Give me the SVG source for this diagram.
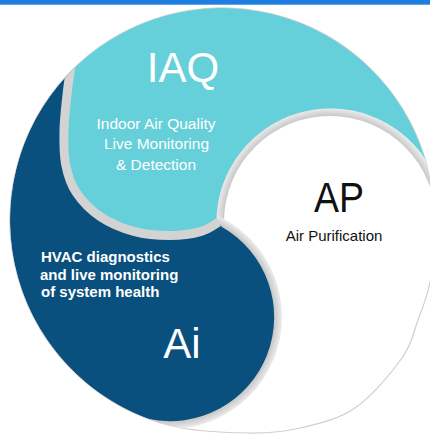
<svg xmlns="http://www.w3.org/2000/svg" width="430" height="435" viewBox="0 0 430 435">
<defs>
<style>
.t{font-family:"Liberation Sans",Arial,sans-serif;}
.w{fill:#ffffff;}
.k{fill:#111111;}
.big{font-size:42px;text-anchor:middle;}
.sub{font-size:15.5px;text-anchor:middle;}
.hv{font-size:15px;font-weight:bold;}
.ring{fill:none;stroke:#d3d3d3;stroke-width:18;}
</style>
<clipPath id="disc"><path d="M425.1,159 A212,212 0 1 0 170,425.5 C195,431.9 226.3,432.6 248,433 C269.7,433.4 282.2,432.2 300,428 C317.8,423.8 338,419.7 355,408 C372,396.3 391.5,372.7 402,358 C412.5,343.3 413.3,332.7 418,320 C422.7,307.3 427.3,297 430,282 C432.7,267 434.3,250.3 434,230 C433.7,209.7 430.9,178.2 425.1,159 Z"/></clipPath>
<clipPath id="apRingClip"><polygon points="150,0 440,0 440,185 240,245 200,262 150,262"/></clipPath>
<radialGradient id="gAp" gradientUnits="userSpaceOnUse" cx="330" cy="222" r="114">
<stop offset="0.92" stop-color="#c4c4c4"/><stop offset="1" stop-color="#ececec"/>
</radialGradient>
<radialGradient id="gAi" gradientUnits="userSpaceOnUse" cx="170" cy="317" r="112">
<stop offset="0.925" stop-color="#c4c4c4"/><stop offset="1" stop-color="#ececec"/>
</radialGradient>
</defs>
<rect id="topbar" x="0" y="0" width="430" height="4.7" fill="#1E7FE1"/>
<g id="outline">
<path d="M425.1,159 A212,212 0 1 0 170,425.5 C195,431.9 226.3,432.6 248,433 C269.7,433.4 282.2,432.2 300,428 C317.8,423.8 338,419.7 355,408 C372,396.3 391.5,372.7 402,358 C412.5,343.3 413.3,332.7 418,320 C422.7,307.3 427.3,297 430,282 C432.7,267 434.3,250.3 434,230 C433.7,209.7 430.9,178.2 425.1,159 Z" fill="#ffffff" stroke="#d0d0d0" stroke-width="1.2"/>
</g>
<g id="ap">
<g clip-path="url(#disc)">
<circle cx="330" cy="222" r="114" fill="url(#gAp)" clip-path="url(#apRingClip)"/>
<circle cx="330" cy="222" r="106" fill="#ffffff"/>
</g>
<text class="t k big" x="339" y="212" textLength="50" lengthAdjust="spacingAndGlyphs">AP</text>
<text class="t k" x="334" y="241" font-size="15" text-anchor="middle">Air Purification</text>
</g>
<g id="ai">
<g clip-path="url(#disc)">
<circle cx="170" cy="317" r="112" fill="url(#gAi)"/>
<path d="M75.3,67 A212,212 0 0 0 147.7,418.7 A104,104 0 0 0 222,227 L150,150 Z" fill="#09507E"/>
</g>
</g>
<g id="iaq">
<g clip-path="url(#disc)">
<path class="ring" d="M75.3,67 C74.7,71.7 72.6,84.5 71.5,95 C70.4,105.5 68.75,118.7 68.5,130 C68.25,141.3 68.1,153 70,163 C71.9,173 74.5,181.7 80,190 C85.5,198.3 93.8,206.8 103,213 C112.2,219.2 123.8,224 135,227 C146.2,230 159.2,231 170,231 C180.8,231 192.25,229.2 200,227 C207.75,224.8 213.75,219.5 216.5,218"/>
<path d="M75.3,67 C74.7,71.7 72.6,84.5 71.5,95 C70.4,105.5 68.75,118.7 68.5,130 C68.25,141.3 68.1,153 70,163 C71.9,173 74.5,181.7 80,190 C85.5,198.3 93.8,206.8 103,213 C112.2,219.2 123.8,224 135,227 C146.2,230 159.2,231 170,231 C180.8,231 192.25,229.2 200,227 C207.75,224.8 213.75,219.5 216.5,218 A114,114 0 0 1 425.1,159 A212,212 0 0 0 75.3,67 Z" fill="#66D0DA"/>
</g>
<text class="t w big" x="183" y="82">IAQ</text>
<text class="t w sub" x="156" y="129">Indoor Air Quality</text>
<text class="t w sub" x="156.5" y="149">Live Monitoring</text>
<text class="t w sub" x="156" y="170">&amp; Detection</text>
</g>
<g id="ai-text">
<text class="t w hv" x="41" y="262">HVAC diagnostics</text>
<text class="t w hv" x="40" y="279.5">and live monitoring</text>
<text class="t w hv" x="41" y="297">of system health</text>
<text class="t w big" x="182" y="358">Ai</text>
</g>
</svg>
